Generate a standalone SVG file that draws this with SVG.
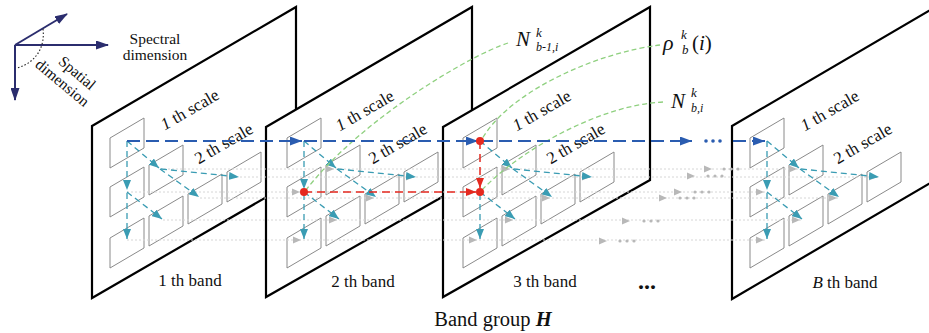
<svg xmlns="http://www.w3.org/2000/svg" xmlns:xlink="http://www.w3.org/1999/xlink" width="929" height="333" viewBox="0 0 929 333">
<style>
.panel{fill:#fff;stroke:#000;stroke-width:2.2;stroke-linejoin:miter}
.box{fill:none;stroke:#8a8a8a;stroke-width:1}
.t{font-family:"Liberation Serif","Times New Roman",serif;fill:#111}
.m{font-family:"Liberation Serif","Times New Roman",serif;fill:#111;font-style:italic}
.teal{fill:none;stroke:#3a9cb3;stroke-width:1.3;stroke-dasharray:6,4}
.blue{fill:none;stroke:#2a5cb0;stroke-width:2;stroke-dasharray:13,6}
.red{fill:none;stroke:#e5291f;stroke-width:1.5;stroke-dasharray:8,5}
.green{fill:none;stroke:#8fd07f;stroke-width:1.3;stroke-dasharray:5,3}
.gline{fill:none;stroke:#d6d6d6;stroke-width:1;stroke-dasharray:2,2}
.gtri{fill:#b8b8b8}
.gdot{fill:#b8b8b8}
.axis{fill:none;stroke:#2b2d6e;stroke-width:2}
</style>
<defs>
<path id="box" class="box" d="M0,0 l34,-20 v30 l-34,20 z"/>
<path id="gt" class="gtri" d="M-8,-3.5 L0,0 L-8,3.5 z"/>
<marker id="mTeal" markerUnits="userSpaceOnUse" viewBox="0 0 10 8" markerWidth="10" markerHeight="8" refX="10" refY="4" orient="auto"><path d="M0,0 L10,4 L0,8 z" fill="#3a9cb3"/></marker>
<marker id="mBlue" markerUnits="userSpaceOnUse" viewBox="0 0 12 9" markerWidth="12" markerHeight="9" refX="12" refY="4.5" orient="auto"><path d="M0,0 L12,4.5 L0,9 z" fill="#2a5cb0"/></marker>
<marker id="mRed" markerUnits="userSpaceOnUse" viewBox="0 0 10 8" markerWidth="10" markerHeight="8" refX="10" refY="4" orient="auto"><path d="M0,0 L10,4 L0,8 z" fill="#e5291f"/></marker>
<marker id="mNavy" markerUnits="userSpaceOnUse" viewBox="0 0 13 9" markerWidth="13" markerHeight="9" refX="12" refY="4.5" orient="auto"><path d="M0,0 L13,4.5 L0,9 z" fill="#2b2d6e"/></marker>
</defs>
<rect width="929" height="333" fill="#fff"/>

<g id="axes">
<line class="axis" x1="15" y1="45" x2="108" y2="45" marker-end="url(#mNavy)"/>
<line class="axis" x1="15" y1="45" x2="15" y2="100" marker-end="url(#mNavy)"/>
<line class="axis" x1="15" y1="45" x2="67" y2="14" marker-end="url(#mNavy)"/>
<path d="M43,29 C45,45 38,62 17,68" fill="none" stroke="#222" stroke-width="1.1" stroke-dasharray="1.5,2"/>
<text class="t" style="font-size:15.5px" x="155" y="44" text-anchor="middle">Spectral</text>
<text class="t" style="font-size:15.5px" x="155" y="60" text-anchor="middle">dimension</text>
<g transform="translate(69,78) rotate(40)">
<text class="t" style="font-size:15.5px" x="3" y="-4" text-anchor="middle">Spatial</text>
<text class="t" style="font-size:15.5px" x="-2" y="13" text-anchor="middle">dimension</text>
</g>
</g>

<g id="band1" class="t" style="font-size:17px">
<polygon class="panel" points="92,126 296,7 296,180 92,298"/>
<use href="#box" x="110" y="138"/><use href="#box" x="110" y="187"/><use href="#box" x="110" y="238"/>
<use href="#box" x="149" y="165"/><use href="#box" x="149" y="216"/><use href="#box" x="188" y="194"/><use href="#box" x="227" y="172"/>
<text transform="translate(190,110) rotate(-30)" x="0" y="5" text-anchor="middle"><tspan font-style="italic">1</tspan> th scale</text>
<text transform="translate(224,144) rotate(-30)" x="0" y="5" text-anchor="middle">2 th scale</text>
<text x="190" y="286" text-anchor="middle">1 th band</text>
</g>

<g id="band2" class="t" style="font-size:17px">
<polygon class="panel" points="266,127 472,7 472,180 266,297"/>
<use href="#box" x="287" y="138"/><use href="#box" x="287" y="187"/><use href="#box" x="287" y="238"/>
<use href="#box" x="326" y="165"/><use href="#box" x="326" y="216"/><use href="#box" x="365" y="194"/><use href="#box" x="404" y="172"/>
<text transform="translate(365,111) rotate(-30)" x="0" y="5" text-anchor="middle"><tspan font-style="italic">1</tspan> th scale</text>
<text transform="translate(398,144) rotate(-30)" x="0" y="5" text-anchor="middle">2 th scale</text>
<text x="363" y="287" text-anchor="middle">2 th band</text>
</g>

<g id="band3" class="t" style="font-size:17px">
<polygon class="panel" points="443,127 650,7 650,180 443,297"/>
<use href="#box" x="463" y="138"/><use href="#box" x="463" y="187"/><use href="#box" x="463" y="238"/>
<use href="#box" x="502" y="165"/><use href="#box" x="502" y="216"/><use href="#box" x="541" y="194"/><use href="#box" x="580" y="172"/>
<text transform="translate(542,111) rotate(-30)" x="0" y="5" text-anchor="middle"><tspan font-style="italic">1</tspan> th scale</text>
<text transform="translate(576,144) rotate(-30)" x="0" y="5" text-anchor="middle">2 th scale</text>
<text x="545" y="287" text-anchor="middle">3 th band</text>
</g>

<g id="bandB" class="t" style="font-size:17px">
<polygon class="panel" points="732,126 937,6 937,179 732,299"/>
<use href="#box" x="750" y="138"/><use href="#box" x="750" y="187"/><use href="#box" x="750" y="238"/>
<use href="#box" x="789" y="165"/><use href="#box" x="789" y="216"/><use href="#box" x="828" y="194"/><use href="#box" x="867" y="172"/>
<text transform="translate(830,111) rotate(-30)" x="0" y="5" text-anchor="middle"><tspan font-style="italic">1</tspan> th scale</text>
<text transform="translate(863,144) rotate(-30)" x="0" y="5" text-anchor="middle">2 th scale</text>
<text x="845" y="288" text-anchor="middle"><tspan font-style="italic">B</tspan> th band</text>
</g>

<g id="ellipsis">
<text class="t" style="font-size:24px;font-weight:bold" x="647" y="289" text-anchor="middle">...</text>
</g>

<g id="labels">
<text class="m" style="font-size:21px" x="516" y="46">N</text>
<text class="m" style="font-size:13px" x="536" y="37">k</text>
<text class="m" style="font-size:12px" x="536" y="51">b-1,i</text>
<text class="m" style="font-size:22px" x="663" y="50">ρ</text>
<text class="m" style="font-size:13px" x="681" y="39">k</text>
<text class="m" style="font-size:13px" x="682" y="54">b</text>
<text class="m" style="font-size:21px" x="692" y="50"><tspan font-style="normal">(</tspan>i<tspan font-style="normal">)</tspan></text>
<text class="m" style="font-size:21px" x="671" y="108">N</text>
<text class="m" style="font-size:13px" x="691" y="97">k</text>
<text class="m" style="font-size:12px" x="691" y="112">b,i</text>
<text class="t" style="font-size:20.5px" x="493" y="326" text-anchor="middle">Band group <tspan font-style="italic" font-weight="bold">H</tspan></text>
</g>

<g id="connectors">
<g id="gray">
<path class="gline" d="M160,169 H800 M240,177 H880 M127,192 H767 M200,198 H840 M163,220 H803 M127,240 H767"/>
<use href="#gt" x="334" y="169"/><use href="#gt" x="414" y="177"/><use href="#gt" x="300" y="192"/><use href="#gt" x="374" y="198"/><use href="#gt" x="337" y="220"/><use href="#gt" x="301" y="240"/>
<use href="#gt" x="510" y="169"/><use href="#gt" x="590" y="177"/><use href="#gt" x="476" y="192"/><use href="#gt" x="550" y="198"/><use href="#gt" x="513" y="220"/><use href="#gt" x="477" y="240"/>
<use href="#gt" x="797" y="169"/><use href="#gt" x="877" y="177"/><use href="#gt" x="764" y="192"/><use href="#gt" x="837" y="198"/><use href="#gt" x="800" y="220"/><use href="#gt" x="764" y="240"/>
<use href="#gt" x="712" y="169"/><use href="#gt" x="695" y="176"/><use href="#gt" x="682" y="192"/><use href="#gt" x="667" y="198"/><use href="#gt" x="630" y="221"/><use href="#gt" x="607" y="241"/>
<g class="gdot">
<circle cx="724" cy="169" r="1.6"/><circle cx="731" cy="169" r="1.6"/><circle cx="738" cy="169" r="1.6"/>
<circle cx="708" cy="176" r="1.6"/><circle cx="715" cy="176" r="1.6"/><circle cx="722" cy="176" r="1.6"/>
<circle cx="695" cy="192" r="1.6"/><circle cx="702" cy="192" r="1.6"/><circle cx="709" cy="192" r="1.6"/>
<circle cx="680" cy="198" r="1.6"/><circle cx="687" cy="198" r="1.6"/><circle cx="694" cy="198" r="1.6"/>
<circle cx="644" cy="221" r="1.6"/><circle cx="651" cy="221" r="1.6"/><circle cx="658" cy="221" r="1.6"/>
<circle cx="620" cy="241" r="1.6"/><circle cx="627" cy="241" r="1.6"/><circle cx="634" cy="241" r="1.6"/>
</g>
</g>
<g id="teal">
<path class="teal" d="M127,141 V190" marker-end="url(#mTeal)"/>
<path class="teal" d="M127,193 V239" marker-end="url(#mTeal)"/>
<path class="teal" d="M127,141 L159,168" marker-end="url(#mTeal)"/>
<path class="teal" d="M160,169 L199,197" marker-end="url(#mTeal)"/>
<path class="teal" d="M161,169 L239,177" marker-end="url(#mTeal)"/>
<path class="teal" d="M127,192 L162,219" marker-end="url(#mTeal)"/>

<path class="teal" d="M304,141 V189" marker-end="url(#mTeal)"/>
<path class="teal" d="M304,194 V239" marker-end="url(#mTeal)"/>
<path class="teal" d="M304,141 L336,168" marker-end="url(#mTeal)"/>
<path class="teal" d="M337,169 L376,197" marker-end="url(#mTeal)"/>
<path class="teal" d="M338,169 L416,177" marker-end="url(#mTeal)"/>
<path class="teal" d="M304,192 L339,219" marker-end="url(#mTeal)"/>

<path class="teal" d="M480,194 V239" marker-end="url(#mTeal)"/>
<path class="teal" d="M480,141 L512,168" marker-end="url(#mTeal)"/>
<path class="teal" d="M513,169 L552,197" marker-end="url(#mTeal)"/>
<path class="teal" d="M514,169 L592,177" marker-end="url(#mTeal)"/>
<path class="teal" d="M480,192 L515,219" marker-end="url(#mTeal)"/>

<path class="teal" d="M767,141 V190" marker-end="url(#mTeal)"/>
<path class="teal" d="M767,193 V239" marker-end="url(#mTeal)"/>
<path class="teal" d="M767,141 L799,168" marker-end="url(#mTeal)"/>
<path class="teal" d="M800,169 L839,197" marker-end="url(#mTeal)"/>
<path class="teal" d="M801,169 L879,177" marker-end="url(#mTeal)"/>
<path class="teal" d="M767,192 L802,219" marker-end="url(#mTeal)"/>
</g>
<g id="green">
<path class="green" d="M508,43 C470,55 360,120 306,190"/>
<path class="green" d="M660,45 C600,52 510,90 482,139"/>
<path class="green" d="M663,102 C600,105 520,150 482,190"/>
</g>
<g id="blue">
<path class="blue" d="M127,141 H302" marker-end="url(#mBlue)"/>
<path class="blue" d="M304,141 H478" marker-end="url(#mBlue)"/>
<path class="blue" d="M480,141 H692" marker-end="url(#mBlue)"/>
<circle cx="706" cy="141" r="1.8" fill="#2a5cb0"/><circle cx="713" cy="141" r="1.8" fill="#2a5cb0"/><circle cx="720" cy="141" r="1.8" fill="#2a5cb0"/>
<path class="blue" d="M733,141 H765" marker-end="url(#mBlue)"/>
</g>
<g id="red">
<path class="red" d="M304,192 H476" marker-end="url(#mRed)"/>
<path class="red" d="M480,141 V188" marker-end="url(#mRed)"/>
<circle cx="304" cy="192" r="4" fill="#e5291f"/>
<circle cx="480" cy="141" r="4" fill="#e5291f"/>
<circle cx="480" cy="192" r="4" fill="#e5291f"/>
</g>
</g>
</svg>
